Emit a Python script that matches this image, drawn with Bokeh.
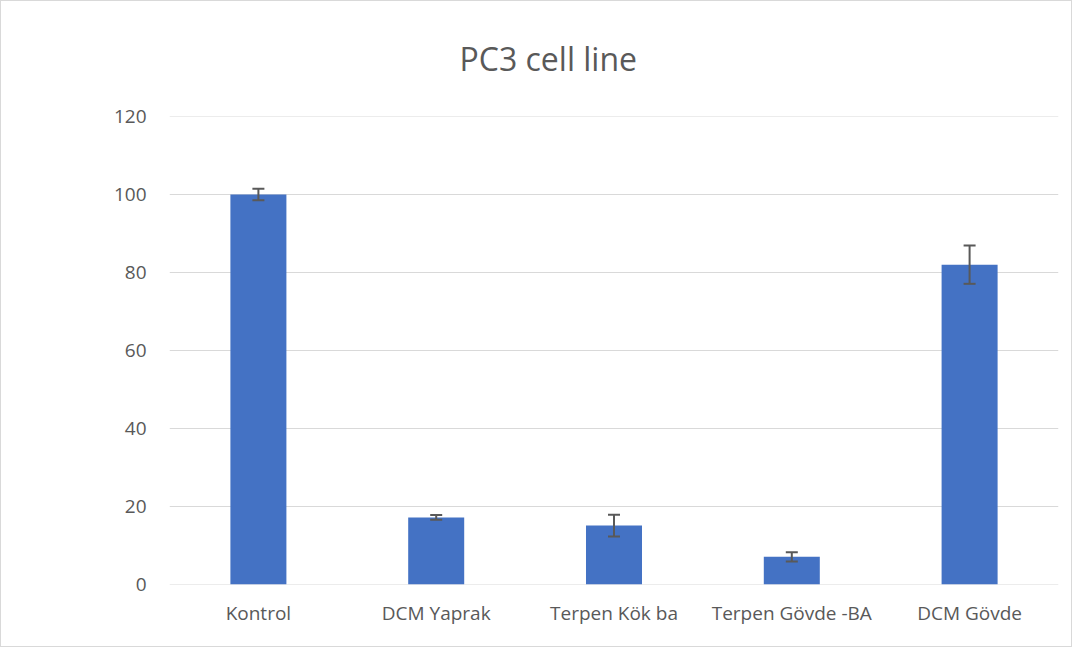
from bokeh.plotting import figure
from bokeh.models import ColumnDataSource, Range1d, FactorRange, Whisker, Span
from bokeh.embed import file_html
from bokeh.resources import INLINE

categories = ["Kontrol", "DCM Yaprak", "Terpen Kök ba", "Terpen Gövde -BA", "DCM Gövde"]
values = [100.0, 17.2, 15.1, 7.1, 82.0]
errors = [1.5, 0.6, 2.8, 1.2, 4.9]
y_ticks = [0, 20, 40, 60, 80, 100, 120]
title_text = "PC3 cell line"

src = ColumnDataSource(dict(
    cat=categories,
    val=values,
    upper=[v + e for v, e in zip(values, errors)],
    lower=[v - e for v, e in zip(values, errors)],
))

p = figure(width=1072, height=647, x_range=FactorRange(*categories, range_padding=0),
           y_range=Range1d(y_ticks[0], y_ticks[-1]), output_backend="svg", toolbar_location=None,
           min_border_left=168, min_border_right=15, min_border_top=115, min_border_bottom=64)
p.styles = {"border": "1px solid #d9d9d9"}
p.outline_line_color = None

p.title.text = title_text
p.title.align = "left"
p.title.vertical_align = "top"
p.title.text_font = "Open Sans"
p.title.text_font_size = "32px"
p.title.text_font_style = "normal"
p.title.text_color = "#595959"
p.title.offset = 290
p.title.standoff = 70

for loc in (y_ticks[0], y_ticks[-1]):
    p.add_layout(Span(location=loc, dimension="width", line_color="#d9d9d9",
                      line_width=1, level="underlay"))

p.vbar(x="cat", top="val", width=0.315, source=src, color="#4472C4", line_color=None)
w = Whisker(base="cat", upper="upper", lower="lower", source=src, line_color="#595959",
            line_width=2, level="overlay")
for head in (w.upper_head, w.lower_head):
    head.size = 12
    head.line_color = "#595959"
    head.line_width = 2
p.add_layout(w)

p.yaxis.ticker = y_ticks
p.ygrid.grid_line_color = "#d9d9d9"
p.ygrid.grid_line_width = 1
p.xgrid.grid_line_color = None
for ax in (p.xaxis, p.yaxis):
    ax.axis_line_color = None
    ax.major_tick_line_color = None
    ax.minor_tick_line_color = None
    ax.major_label_text_font = "Open Sans"
    ax.major_label_text_font_size = "19px"
    ax.major_label_text_color = "#595959"
p.yaxis.major_label_standoff = 17
p.xaxis.major_label_standoff = 9

open("out.html", "w").write(file_html(p, INLINE))
